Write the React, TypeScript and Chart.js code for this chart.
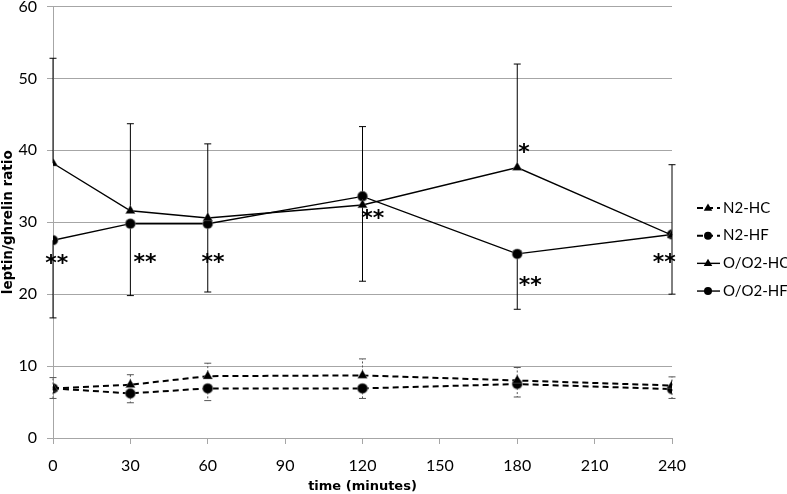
import React, { useEffect, useRef } from "react";
import { Chart, registerables } from "chart.js";

Chart.register(...registerables);

// ---- data ----
const times = [0, 30, 60, 120, 180, 240];
const seriesLabels = ["N2-HC", "N2-HF", "O/O2-HC", "O/O2-HF"];
const n2HC = [6.9, 7.4, 8.6, 8.7, 8.0, 7.3];
const n2HCErrPlus = [1.5, 1.4, 1.8, 2.3, 1.8, 1.2];
const n2HF = [6.9, 6.2, 6.9, 6.9, 7.5, 6.8];
const n2HFErrMinus = [1.4, 1.3, 1.7, 1.4, 1.8, 1.3];
const oHC = [38.2, 31.6, 30.6, 32.4, 37.6, 28.2];
const oHCErrPlus = [14.6, 12.1, 10.3, 10.9, 14.4, 9.8];
const oHF = [27.5, 29.8, 29.8, 33.6, 25.6, 28.3];
const oHFErrMinus = [10.8, 10.0, 9.5, 11.8, 7.7, 8.3];
const xTicks = [0, 30, 60, 90, 120, 150, 180, 210, 240];
const yTicks = [0, 10, 20, 30, 40, 50, 60];
const annotTime = [1.5, 35.7, 62, 124, 182.6, 185, 237];
const annotValue = [24.7, 24.8, 24.8, 31, 40.2, 21.7, 24.8];
const annotText = ["**", "**", "**", "**", "*", "**", "**"];
const xTitle = "time (minutes)";
const yTitle = "leptin/ghrelin ratio";

const FONT = "Lato, 'Open Sans', sans-serif";
const TITLE_FONT = "'DejaVu Sans', sans-serif";

function pts(vals: number[]) {
  return times.map((t, i) => ({ x: t, y: vals[i] }));
}

function drawMarker(ctx: CanvasRenderingContext2D, style: string, x: number, y: number, r: number) {
  ctx.beginPath();
  if (style === "triangle") {
    ctx.moveTo(x, y - r);
    ctx.lineTo(x + r * 0.95, y + r * 0.6);
    ctx.lineTo(x - r * 0.95, y + r * 0.6);
    ctx.closePath();
  } else {
    ctx.arc(x, y, r, 0, Math.PI * 2);
  }
  ctx.fillStyle = "#000";
  ctx.fill();
}

const errorBarPlugin = {
  id: "errorBars",
  beforeDatasetsDraw(chart: any) {
    const ctx = chart.ctx;
    const xs = chart.scales.x;
    const ys = chart.scales.y;
    chart.data.datasets.forEach((ds: any) => {
      ctx.save();
      ctx.strokeStyle = ds.errorColor || "#000";
      ctx.lineWidth = ds.errorWidth || 1;
      ds.data.forEach((p: any, i: number) => {
        const px = xs.getPixelForValue(p.x);
        const py = ys.getPixelForValue(p.y);
        const ends: number[] = [];
        if (ds.errorPlus) ends.push(ys.getPixelForValue(p.y + ds.errorPlus[i]));
        if (ds.errorMinus) ends.push(ys.getPixelForValue(p.y - ds.errorMinus[i]));
        ends.forEach((ey) => {
          ctx.setLineDash(ds.errorDash || []);
          ctx.beginPath();
          ctx.moveTo(px, py);
          ctx.lineTo(px, ey);
          ctx.stroke();
          ctx.setLineDash([]);
          ctx.beginPath();
          ctx.moveTo(px - 3.5, ey);
          ctx.lineTo(px + 3.5, ey);
          ctx.stroke();
        });
      });
      ctx.restore();
    });
  },
};

const annotationPlugin = {
  id: "annots",
  afterDatasetsDraw(chart: any) {
    const ctx = chart.ctx;
    const xs = chart.scales.x;
    const ys = chart.scales.y;
    ctx.save();
    ctx.fillStyle = "#000";
    ctx.font = "bold 22px 'DejaVu Sans', sans-serif";
    ctx.textAlign = "center";
    ctx.textBaseline = "middle";
    annotText.forEach((t, i) => {
      const x = xs.getPixelForValue(annotTime[i]);
      const y = ys.getPixelForValue(annotValue[i]);
      ctx.fillText(t, x, y + 4);
    });
    ctx.restore();
  },
};

const sideLegendPlugin = {
  id: "sideLegend",
  afterDraw(chart: any) {
    const ctx = chart.ctx;
    const area = chart.chartArea;
    const x0 = area.right + 25;
    const spacing = 27.7;
    const cy = chart.height / 2 + 2.5;
    chart.data.datasets.forEach((ds: any, i: number) => {
      const y = cy + (i - 1.5) * spacing;
      ctx.save();
      ctx.strokeStyle = "#000";
      ctx.lineWidth = ds.borderWidth;
      ctx.setLineDash(ds.borderDash || []);
      ctx.beginPath();
      ctx.moveTo(x0, y);
      ctx.lineTo(x0 + 23, y);
      ctx.stroke();
      ctx.setLineDash([]);
      drawMarker(ctx, ds.pointStyle, x0 + 11, y, ds.pointStyle === "triangle" ? 4.5 : 4);
      ctx.fillStyle = "#000";
      ctx.font = "15px " + FONT;
      ctx.textAlign = "left";
      ctx.textBaseline = "middle";
      ctx.fillText(ds.label, x0 + 26, y);
      ctx.restore();
    });
  },
};

export default function App() {
  const ref = useRef<HTMLCanvasElement | null>(null);

  useEffect(() => {
    if (!ref.current) return;
    const halo = "rgba(120,120,120,0.45)";
    const chart = new Chart(ref.current, {
      type: "line",
      data: {
        datasets: [
          {
            label: seriesLabels[0],
            data: pts(n2HC),
            borderColor: "#000",
            borderWidth: 2,
            borderDash: [6, 4],
            pointStyle: "triangle",
            pointRadius: 5.5,
            pointBackgroundColor: "#000",
            pointBorderColor: halo,
            pointBorderWidth: 1,
            errorPlus: n2HCErrPlus,
            errorColor: "#555",
            errorDash: [2, 2],
          } as any,
          {
            label: seriesLabels[1],
            data: pts(n2HF),
            borderColor: "#000",
            borderWidth: 2,
            borderDash: [6, 4],
            pointStyle: "circle",
            pointRadius: 5,
            pointBackgroundColor: "#000",
            pointBorderColor: halo,
            pointBorderWidth: 1.5,
            errorMinus: n2HFErrMinus,
            errorColor: "#555",
            errorDash: [2, 2],
          } as any,
          {
            label: seriesLabels[2],
            data: pts(oHC),
            borderColor: "#000",
            borderWidth: 1.4,
            pointStyle: "triangle",
            pointRadius: 5.5,
            pointBackgroundColor: "#000",
            pointBorderColor: halo,
            pointBorderWidth: 1,
            errorPlus: oHCErrPlus,
            errorColor: "#000",
          } as any,
          {
            label: seriesLabels[3],
            data: pts(oHF),
            borderColor: "#000",
            borderWidth: 1.4,
            pointStyle: "circle",
            pointRadius: 5,
            pointBackgroundColor: "#000",
            pointBorderColor: halo,
            pointBorderWidth: 1.5,
            errorMinus: oHFErrMinus,
            errorColor: "#000",
          } as any,
        ],
      },
      options: {
        responsive: false,
        animation: false,
        layout: { padding: { top: 2, right: 115, left: 0, bottom: 0 } },
        plugins: {
          legend: { display: false },
          tooltip: { enabled: false },
        },
        scales: {
          x: {
            type: "linear",
            min: 0,
            max: 240,
            afterBuildTicks: (s: any) => {
              s.ticks = xTicks.map((v) => ({ value: v }));
            },
            afterFit: (s: any) => {
              s.height = 56;
              s.paddingLeft = 0;
              s.paddingRight = 0;
            },
            ticks: {
              color: "#000",
              font: { family: FONT, size: 16 },
              padding: 12,
              maxRotation: 0,
            },
            grid: {
              display: true,
              drawOnChartArea: false,
              drawTicks: true,
              tickLength: 6,
              color: "#a6a6a6",
            },
            border: { display: true, color: "#a6a6a6", width: 1 },
            title: {
              display: true,
              text: xTitle,
              color: "#000",
              font: { family: TITLE_FONT, size: 13, weight: "bold" },
              padding: 0,
            },
          },
          y: {
            type: "linear",
            min: 0,
            max: 60,
            afterBuildTicks: (s: any) => {
              s.ticks = yTicks.map((v) => ({ value: v }));
            },
            afterFit: (s: any) => {
              s.width = 53;
              s.paddingTop = 0;
              s.paddingBottom = 0;
            },
            ticks: {
              color: "#000",
              font: { family: FONT, size: 16 },
              padding: 10,
            },
            grid: {
              display: true,
              drawOnChartArea: true,
              drawTicks: true,
              tickLength: 6,
              color: "#a6a6a6",
            },
            border: { display: true, color: "#a6a6a6", width: 1 },
            title: {
              display: true,
              text: yTitle,
              color: "#000",
              font: { family: TITLE_FONT, size: 13.5, weight: "bold" },
              padding: 0,
            },
          },
        },
      } as any,
      plugins: [errorBarPlugin, annotationPlugin, sideLegendPlugin],
    });
    return () => chart.destroy();
  }, []);

  return (
    <div style={{ position: "absolute", left: 0, top: 0, width: 787, height: 494, background: "#fff" }}>
      <canvas ref={ref} width={787} height={494} style={{ display: "block" }} />
    </div>
  );
}
